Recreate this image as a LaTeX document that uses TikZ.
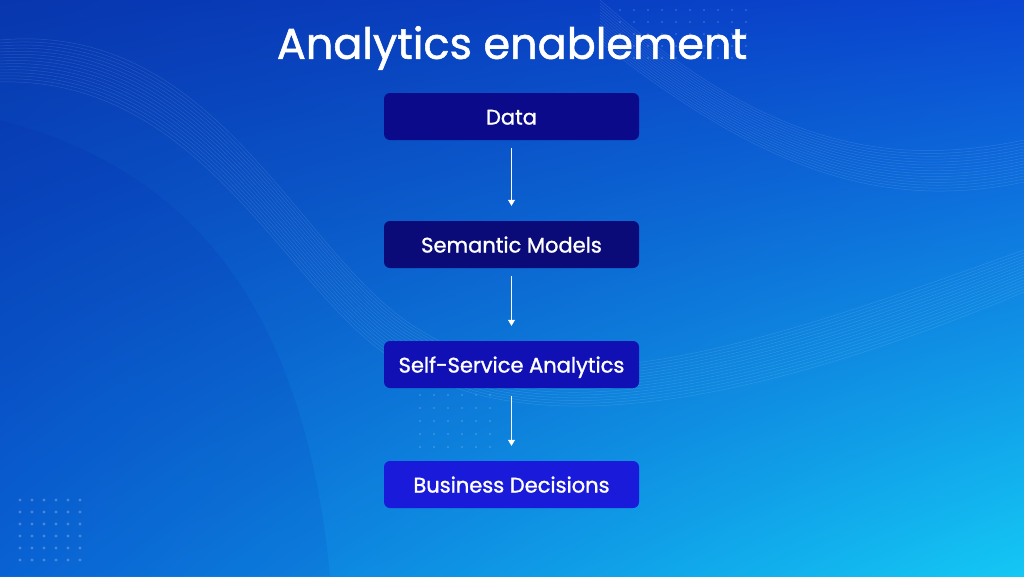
\documentclass[tikz,border=0pt]{standalone}
\usepackage{fontspec}
\setmainfont{Poppins}
\newfontfamily\medfont[FakeBold=1.3]{Poppins}
\usetikzlibrary{arrows.meta,shadings}
\definecolor{bgTL}{HTML}{0836AE}
\definecolor{bgTR}{HTML}{0A46D2}
\definecolor{bgBL}{HTML}{0A6AD8}
\definecolor{bgBR}{HTML}{14C8F4}
\definecolor{boxA}{HTML}{0A0A8A}
\definecolor{boxB}{HTML}{0A0A78}
\definecolor{boxC}{HTML}{1010B4}
\definecolor{boxD}{HTML}{1A1ADA}
\tikzset{
  stagebox/.style={rounded corners=6pt, minimum width=255pt, minimum height=47pt,
    inner sep=0pt, text=white, text height=16pt, text depth=0pt,
    font=\medfont\fontsize{21}{24}\selectfont},
  flow/.style={draw=white, line width=0.8pt, -{Triangle[length=6pt,width=7pt]},
    shorten <=8pt, shorten >=15pt},
  wave/.style={draw=white, opacity=0.12, line width=0.5pt}
}
\begin{document}
\begin{tikzpicture}[x=1pt,y=-1pt]
\useasboundingbox (0,0) rectangle (1024,576);
\shade[upper left=bgTL, upper right=bgTR, lower left=bgBL, lower right=bgBR] (0,0) rectangle (1024,576);
\fill[blue!60!black, opacity=0.07] (0,120) .. controls (150,160) and (300,260) .. (330,576) -- (0,576) -- cycle;
% faint waves
\foreach \k in {0,...,14}{
  \draw[wave] (0,{40+3*\k}) .. controls (220,{20+4*\k}) and (300,{260+5*\k}) .. (420,{330+3*\k}) .. controls (560,{420+2*\k}) and (800,{330+4*\k}) .. (1024,{250+3*\k});
  \draw[wave] (600,{0+3*\k}) .. controls (760,{140+2*\k}) and (880,{170+3*\k}) .. (1024,{140+3*\k});
}
% dots
\foreach \i in {0,...,5}{\foreach \j in {0,...,5}{
  \fill[white, opacity=0.25] ({20+12*\i},{500+12*\j}) circle (1.6pt);
}}
\foreach \i in {0,...,9}{\foreach \j in {0,...,4}{
  \fill[white, opacity=0.18] ({620+14*\i},{10+12*\j}) circle (1.2pt);
}}
\foreach \i in {0,...,5}{\foreach \j in {0,...,4}{
  \fill[white, opacity=0.18] ({420+14*\i},{395+13*\j}) circle (1.2pt);
}}

\node[text=white, font=\medfont\fontsize{43}{50}\selectfont] (title) at (512,48) {Analytics enablement};

\node[stagebox, fill=boxA] (data) at (511.5,116.5) {Data};
\node[stagebox, fill=boxB] (sem) at (511.5,244.5) {Semantic Models};
\node[stagebox, fill=boxC] (ssa) at (511.5,364.5) {Self-Service Analytics};
\node[stagebox, fill=boxD] (bd) at (511.5,484.5) {Business Decisions};

\draw[flow] (data.south) -- (sem.north);
\draw[flow] (sem.south) -- (ssa.north);
\draw[flow] (ssa.south) -- (bd.north);
\end{tikzpicture}
\end{document}
